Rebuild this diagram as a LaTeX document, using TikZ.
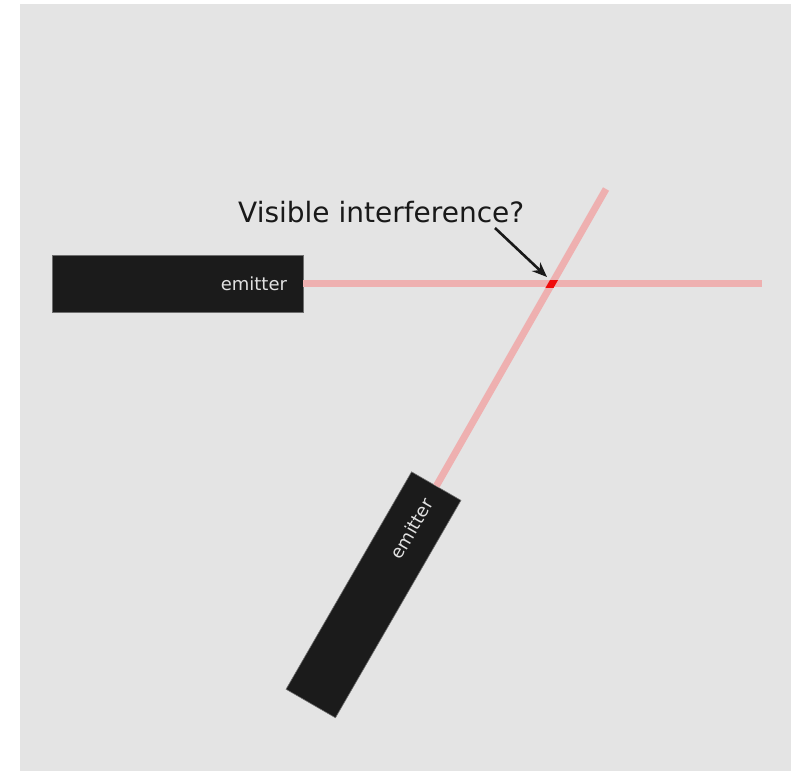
\documentclass[tikz,border=0pt]{standalone}
\usepackage{fontspec}
\setmainfont{DejaVu Sans}
\usetikzlibrary{arrows.meta}
\definecolor{bggray}{RGB}{228,228,228}
\definecolor{boxblack}{RGB}{27,27,27}
\definecolor{boxedge}{RGB}{110,110,110}
\definecolor{beampink}{RGB}{238,176,176}
\definecolor{spotred}{RGB}{240,10,10}
\definecolor{labelwhite}{RGB}{225,225,225}
\tikzset{
  emitterbox/.style={draw=boxedge, line width=0.6pt, fill=boxblack, rectangle,
    minimum height=57pt, inner xsep=16pt, inner ysep=0pt, text width=219pt,
    align=right, text=labelwhite, font=\fontsize{18}{20}\selectfont},
  beam/.style={draw=beampink, line width=7pt, line cap=butt},
  spotbeam/.style={draw=spotred, line width=7pt, line cap=butt},
  pointer/.style={draw=black!90, line width=2.6pt, -{Stealth[length=15pt,width=12pt]}},
  titletext/.style={font=\fontsize{28}{32}\selectfont, text=black!90, inner sep=0pt}
}
\begin{document}
\begin{tikzpicture}[x=1pt,y=-1pt]
\useasboundingbox (0,0) rectangle (795,771);
\fill[bggray] (20,4) rectangle (791,771);
% emitters
\node[emitterbox] (e1) at (177.5,283.5) {emitter};
\node[emitterbox, rotate=60] (e2) at (373.5,594.8) {emitter};
% beam ends
\coordinate (b1) at (762,283.5);
\coordinate (b2) at (606,189);
\draw[beam] (e1.east) -- (b1);
\draw[beam] (e2.east) -- (b2);
% red spot at intersection
\begin{scope}
  \clip (303,280) rectangle (762,287);
  \draw[spotbeam] (e2.east) -- (b2);
\end{scope}
% title and pointer
\node[titletext, anchor=base west] (title) at (238,222) {Visible interference?};
\coordinate (pstart) at (495,228);
\coordinate (ptip) at (547,277);
\draw[pointer] (pstart) -- (ptip);
\end{tikzpicture}
\end{document}
